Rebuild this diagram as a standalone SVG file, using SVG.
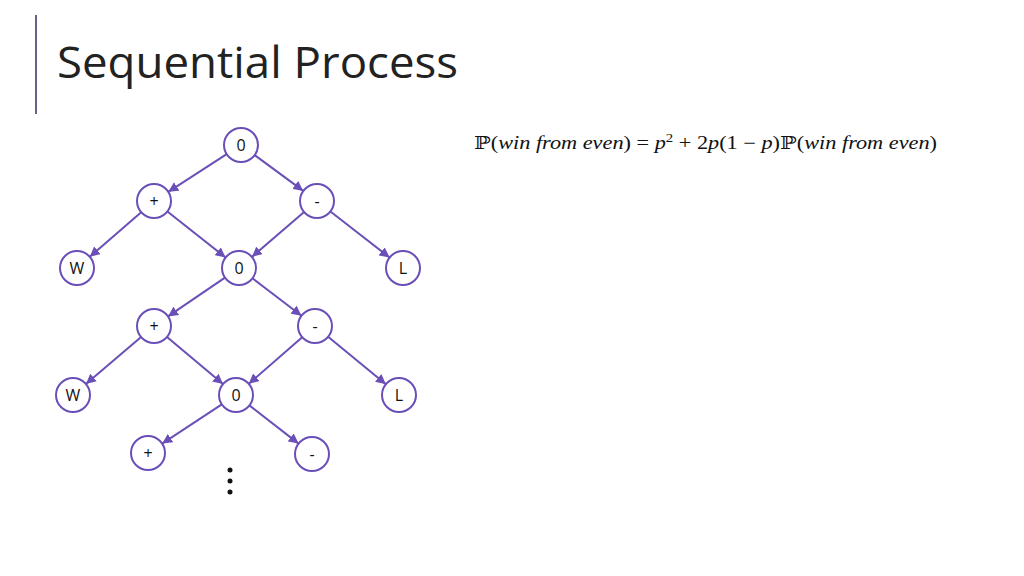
<svg xmlns="http://www.w3.org/2000/svg" width="1024" height="576" viewBox="0 0 1024 576">
<style>
.n circle{fill:#fff;stroke:#6a4fb8;stroke-width:2}
.n text{font-family:"Open Sans","DejaVu Sans",sans-serif;font-size:16px;text-anchor:middle;fill:#111}
#edges line{stroke:#6a4fb8;stroke-width:2;marker-end:url(#a)}
.f{font-family:"Liberation Serif","DejaVu Serif",serif;font-size:18px;fill:#111}
.i{font-style:italic}
</style>
<defs><marker id="a" viewBox="0 0 10 10" refX="10" refY="5" markerWidth="5" markerHeight="5" orient="auto" markerUnits="strokeWidth"><path d="M0,0L10,5L0,10z" fill="#6a4fb8"/></marker></defs>
<rect width="1024" height="576" fill="#fff"/>
<line x1="36" y1="15" x2="36" y2="114" stroke="#6a5f8a" stroke-width="2"/>
<text x="57" y="78" font-family="'Open Sans','Noto Sans',sans-serif" font-size="43" fill="#222" textLength="401" lengthAdjust="spacingAndGlyphs">Sequential Process</text>
<g id="edges">
<line x1="226.7" y1="154.2" x2="168.3" y2="191.8"/>
<line x1="254.7" y1="155.1" x2="303.3" y2="190.9"/>
<line x1="141.2" y1="212.2" x2="89.8" y2="256.8"/>
<line x1="167.4" y1="211.5" x2="225.6" y2="257.5"/>
<line x1="304.1" y1="212.1" x2="251.9" y2="256.9"/>
<line x1="330.4" y1="211.5" x2="389.6" y2="257.5"/>
<line x1="225" y1="277.6" x2="168" y2="316.4"/>
<line x1="252.5" y1="278.3" x2="301.5" y2="315.7"/>
<line x1="141.1" y1="337" x2="85.9" y2="384"/>
<line x1="167" y1="337" x2="223" y2="384"/>
<line x1="302.2" y1="337.2" x2="248.8" y2="383.8"/>
<line x1="328.1" y1="336.8" x2="385.9" y2="384.2"/>
<line x1="221.8" y1="404.4" x2="162.2" y2="443.6"/>
<line x1="249.4" y1="405.4" x2="298.6" y2="443.6"/>
</g>
<g id="n1" class="n"><circle cx="241" cy="145" r="17"/><text x="241" y="151">0</text></g>
<g id="n2" class="n"><circle cx="154" cy="201" r="17"/><text x="154" y="207">+</text></g>
<g id="n3" class="n"><circle cx="317" cy="201" r="17"/><text x="317" y="207">-</text></g>
<g id="n4" class="n"><circle cx="77" cy="268" r="17"/><text x="77" y="274">W</text></g>
<g id="n5" class="n"><circle cx="239" cy="268" r="17"/><text x="239" y="274">0</text></g>
<g id="n6" class="n"><circle cx="403" cy="268" r="17"/><text x="403" y="274">L</text></g>
<g id="n7" class="n"><circle cx="154" cy="326" r="17"/><text x="154" y="332">+</text></g>
<g id="n8" class="n"><circle cx="315" cy="326" r="17"/><text x="315" y="332">-</text></g>
<g id="n9" class="n"><circle cx="73" cy="395" r="17"/><text x="73" y="401">W</text></g>
<g id="n10" class="n"><circle cx="236" cy="395" r="17"/><text x="236" y="401">0</text></g>
<g id="n11" class="n"><circle cx="399" cy="395" r="17"/><text x="399" y="401">L</text></g>
<g id="n12" class="n"><circle cx="148" cy="453" r="17"/><text x="148" y="459">+</text></g>
<g id="n13" class="n"><circle cx="312" cy="454" r="17"/><text x="312" y="460">-</text></g>
<g id="dots" fill="#111"><circle cx="230" cy="470" r="2.5"/><circle cx="230" cy="481" r="2.5"/><circle cx="230" cy="492" r="2.5"/></g>
<text class="f" x="474" y="149" textLength="463" lengthAdjust="spacingAndGlyphs">ℙ(<tspan class="i">win from even</tspan>) = <tspan class="i">p</tspan><tspan font-size="12" dy="-7">2</tspan><tspan dy="7"> + 2</tspan><tspan class="i">p</tspan>(1 − <tspan class="i">p</tspan>)ℙ(<tspan class="i">win from even</tspan>)</text>
</svg>
